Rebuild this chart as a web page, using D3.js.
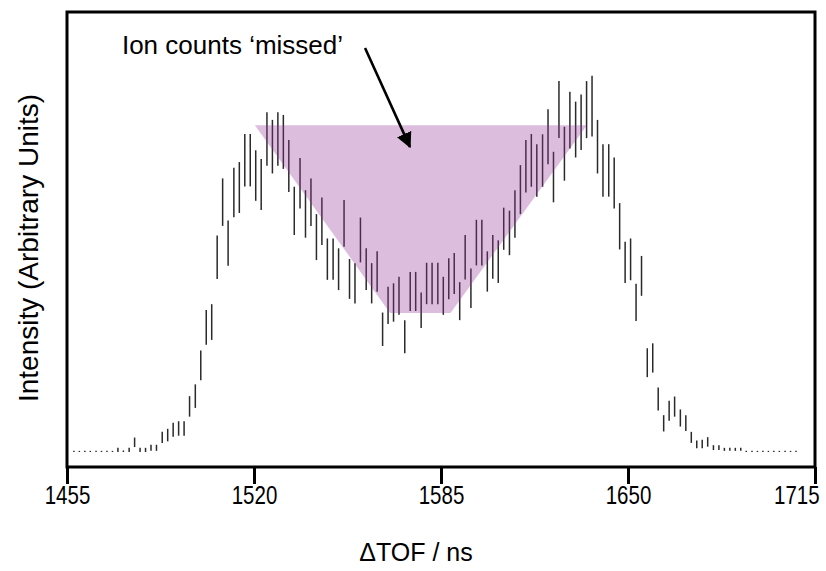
<!DOCTYPE html>
<html>
<head>
<meta charset="utf-8">
<script src="https://cdn.jsdelivr.net/npm/d3@7"></script>
<style>
  html, body { margin: 0; padding: 0; background: #fff; }
  svg { display: block; font-family: "Liberation Sans", Arial, sans-serif; }
</style>
</head>
<body>
<svg id="chart" width="826" height="571"></svg>
<script>
// Time-of-flight bin centres (ns)
const tof = [
  1457.4,1459.3,1461.2,1463.1,1465.1,1467.0,1468.9,1470.8,1472.7,1474.6,
  1476.6,1478.5,1480.4,1482.3,1484.2,1486.1,1488.1,1490.0,1491.9,1493.8,
  1495.7,1497.6,1499.6,1501.5,1503.4,1505.3,1507.2,1509.1,1511.0,1513.0,
  1514.9,1516.8,1518.7,1520.6,1522.5,1524.5,1526.4,1528.3,1530.2,1532.1,
  1534.0,1536.0,1537.9,1539.8,1541.7,1543.6,1545.5,1547.5,1549.4,1551.3,
  1553.2,1555.1,1557.0,1559.0,1560.9,1562.8,1564.7,1566.6,1568.5,1570.4,
  1572.4,1574.3,1576.2,1578.1,1580.0,1581.9,1583.9,1585.8,1587.7,1589.6,
  1591.5,1593.4,1595.4,1597.3,1599.2,1601.1,1603.0,1604.9,1606.8,1608.8,
  1610.7,1612.6,1614.5,1616.4,1618.3,1620.3,1622.2,1624.1,1626.0,1627.9,
  1629.8,1631.8,1633.7,1635.6,1637.5,1639.4,1641.3,1643.3,1645.2,1647.1,
  1649.0,1650.9,1652.8,1654.7,1656.7,1658.6,1660.5,1662.4,1664.3,1666.2,
  1668.2,1670.1,1672.0,1673.9,1675.8,1677.7,1679.7,1681.6,1683.5,1685.4,
  1687.3,1689.2,1691.1,1693.1,1695.0,1696.9,1698.8,1700.7,1702.6,1704.6,
  1706.5,1708.4
];
// Lower end of each intensity error bar (arbitrary units)
const low = [
  0,0,0,0,0,0,0,0,
  0,0,0,1.3,0,0,0.3,0.3,2.4,2.8,4.0,4.3,
  4.3,9.3,11.6,18.9,28.2,29.5,45.5,59.5,49.0,61.8,
  62.9,69.9,69.9,66.1,63.7,75.3,73.3,75.3,74.5,68.4,
  57.1,64.1,56.4,59.5,50.5,54.5,45.3,45.3,42.6,54.0,
  40.3,39.1,49.9,42.6,39.1,42.2,27.9,33.7,34.3,36.1,
  26.0,37.1,37.1,32.6,38.9,38.9,38.9,36.1,40.2,41.6,
  34.7,45.4,37.9,49.1,49.1,42.2,45.6,44.5,53.2,51.8,
  56.4,62.6,68.3,69.8,67.2,69.8,75.7,65.7,82.6,71.4,
  79.9,77.5,79.5,82.6,83.0,73.3,67.2,67.2,64.1,53.3,
  44.5,45.2,34.5,41.1,19.7,20.9,10.9,5.4,8.2,9.3,
  6.7,5.5,2.4,1.0,1.0,1.4,0.5,0.5,0.3,0.3,
  0.3,0.3,0,0,0,0,0,0,0,0,0,0
];
// Upper end of each intensity error bar (arbitrary units)
const high = [
  0.3,0.3,0.3,0.3,0.3,0.3,0.3,0.3,
  1.1,0.4,1.1,3.8,1.1,1.1,1.9,1.9,5.3,6.1,7.7,8.1,
  8.1,14.7,17.8,26.7,37.4,38.9,57.0,72.0,60.9,74.8,
  76.3,83.7,83.7,79.4,77.1,89.4,87.4,89.4,88.7,82.1,
  69.8,77.4,68.9,72.0,62.6,67.0,56.2,56.2,53.6,66.3,
  50.8,49.7,61.7,53.6,49.7,52.8,36.7,43.5,44.4,46.1,
  34.7,47.4,47.4,42.0,49.8,49.8,49.8,46.1,51.0,52.4,
  44.7,57.1,48.3,61.1,61.1,52.8,57.1,55.7,64.3,63.5,
  68.9,75.5,82.1,83.7,81.0,83.6,90.2,79.0,97.6,85.6,
  94.8,92.2,94.1,97.6,99.0,87.4,81.0,81.0,77.5,65.5,
  55.3,56.2,44.3,51.6,27.3,28.6,17.0,9.7,13.5,14.6,
  11.2,9.7,5.3,3.0,3.2,3.9,1.8,1.8,1.1,1.1,
  1.1,1.1,0.3,0.3,0.3,0.3,0.3,0.3,0.3,0.3,0.3,0.3
];
// Axis ticks
const xTicks = [1455, 1520, 1585, 1650, 1715];
// Shaded "missed counts" region (tof, intensity)
const missedTof = [1520.3, 1635.7, 1588.3, 1567.3];
const missedVal = [86.0, 86.0, 36.6, 36.6];
// Annotation
const annotText = "Ion counts \u2018missed\u2019";
const arrowFrom = [1558.6, 106.3];
const arrowTo = [1574.2, 80.3];
const textPos = [1474.1, 104.7];

(function () {
const svg = d3.select("#chart");
const W = 826, H = 571;
const mLeft = 67, mRight = 815, mTop = 12, mBottom = 467;

const x = d3.scaleLinear().domain([1455, 1715]).range([mLeft, mRight]);
const y = d3.scaleLinear().domain([0, 100]).range([452, 72]);

svg.append("rect").attr("width", W).attr("height", H).attr("fill", "#fff");

// error bars
svg.append("g").selectAll("line").data(tof).join("line")
  .attr("x1", (d) => x(d)).attr("x2", (d) => x(d))
  .attr("y1", (d, i) => Math.max(y(low[i]), y(high[i]) + 1))
  .attr("y2", (d, i) => y(high[i]))
  .attr("stroke", "#2a2a2a").attr("stroke-width", 1.5);

// shaded region
svg.append("polygon")
  .attr("points", missedTof.map((t, i) => [x(t), y(missedVal[i])].join(",")).join(" "))
  .attr("fill", "rgb(150,50,150)").attr("fill-opacity", 0.32);

// frame
svg.append("rect").attr("x", mLeft).attr("y", mTop)
  .attr("width", mRight - mLeft).attr("height", mBottom - mTop)
  .attr("fill", "none").attr("stroke", "#000").attr("stroke-width", 3);

// x axis
const xAxis = d3.axisBottom(x).tickValues(xTicks).tickSize(17).tickPadding(2).tickFormat(d3.format("d"));
const gx = svg.append("g").attr("transform", `translate(0,${mBottom})`).call(xAxis);
gx.select(".domain").remove();
gx.selectAll(".tick line").attr("stroke", "#000").attr("stroke-width", 3);
gx.selectAll(".tick text").attr("fill", "#000").attr("font-size", 25)
  .attr("font-family", '"Liberation Sans", Arial, sans-serif')
  .attr("transform", "scale(0.82,1)");
// keep last label inside the picture, as in the reference
gx.selectAll(".tick text").filter((d) => d === xTicks[xTicks.length - 1])
  .attr("text-anchor", "end").attr("x", 5);

svg.append("text").attr("x", 416).attr("y", 561)
  .attr("text-anchor", "middle").attr("font-size", 25).text("\u0394TOF / ns");

svg.append("text")
  .attr("transform", `translate(38,248) rotate(-90)`)
  .attr("text-anchor", "middle").attr("font-size", 28)
  .text("Intensity (Arbitrary Units)");

// annotation
svg.append("text").attr("x", x(textPos[0])).attr("y", y(textPos[1]))
  .attr("font-size", 26).text(annotText);

svg.append("defs").append("marker").attr("id", "ah")
  .attr("viewBox", "0 0 10 10").attr("refX", 9).attr("refY", 5)
  .attr("markerWidth", 6).attr("markerHeight", 6).attr("orient", "auto")
  .append("path").attr("d", "M0,0 L10,5 L0,10 z").attr("fill", "#000");

svg.append("line")
  .attr("x1", x(arrowFrom[0])).attr("y1", y(arrowFrom[1]))
  .attr("x2", x(arrowTo[0])).attr("y2", y(arrowTo[1]))
  .attr("stroke", "#000").attr("stroke-width", 2.6).attr("marker-end", "url(#ah)");
})();
</script>
</body>
</html>
